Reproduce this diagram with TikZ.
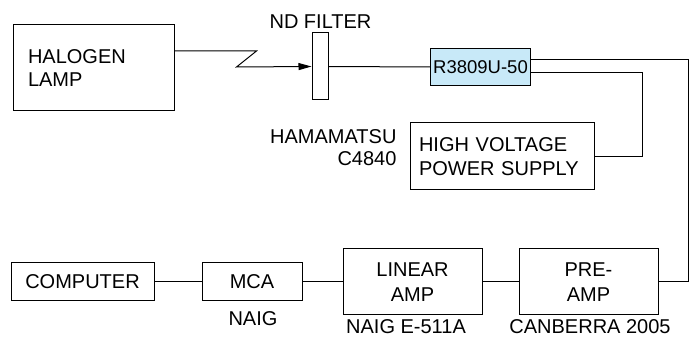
\documentclass[tikz,border=0pt]{standalone}
\usepackage{fontspec}
\setmainfont{Liberation Sans}
\usetikzlibrary{arrows.meta, positioning, calc}
\definecolor{tubefill}{HTML}{C8E9F8}

\begin{document}
\begin{tikzpicture}[x=1pt, y=-1pt, font=\fontsize{20}{23}\selectfont,
  box/.style={draw, line width=1pt, inner sep=0pt, align=center},
  wire/.style={line width=1pt}]
  \useasboundingbox (0,0) rectangle (694,339);

  % optics
  \node[box, minimum height=86pt, text width=131pt, inner xsep=15pt, align=left] (lamp) at (93.5,68) {HALOGEN\\LAMP};
  \node[box, minimum width=16pt, minimum height=67pt] (filt) at (320,66.5) {};
  \node (filtlbl) at (320.5,22) {ND FILTER};
  \node[box, fill=tubefill, minimum width=100pt, minimum height=37pt, font=\fontsize{18.5}{22}\selectfont] (pmt) at (480.5,67) {R3809U-50};

  % high voltage
  \node[box, minimum height=67pt, text width=166pt, inner xsep=9pt, align=left, font=\fontsize{20}{24}\selectfont] (hv) at (502,156.5) {HIGH VOLTAGE\\POWER SUPPLY};
  \node[anchor=east, align=right, font=\fontsize{20}{22}\selectfont] (hvlbl) at (400,148) {HAMAMATSU\\C4840};

  % electronics
  \node[box, minimum width=143pt, minimum height=38pt] (comp) at (82.5,282) {COMPUTER};
  \node[box, minimum width=100pt, minimum height=38pt] (mca) at (252,282) {MCA};
  \node (mcalbl) at (253,318.5) {NAIG};
  \node[box, minimum width=139pt, minimum height=66pt, font=\fontsize{20}{25}\selectfont] (lin) at (412.5,282) {LINEAR\\AMP};
  \node (linlbl) at (406,327) {NAIG E-511A};
  \node[box, minimum width=139pt, minimum height=66pt, font=\fontsize{20}{25}\selectfont] (pre) at (588.5,282) {PRE-\\AMP};
  \node (prelbl) at (590,327) {CANBERRA 2005};

  % connections
  \draw[wire, -{Triangle[length=13pt,width=7pt]}] ([yshift=17pt]lamp.east) -- ++(82,0) -- ++(-20,16) -- (filt.west);
  \draw[wire] (filt.east) -- (pmt.west);
  \draw[wire] ([yshift=7pt]pmt.east) -- ++(157,0) |- (pre.east);
  \draw[wire] ([yshift=-6pt]pmt.east) -- ++(111,0) |- (hv.east);
  \draw[wire] (comp) -- (mca) -- (lin) -- (pre);
\end{tikzpicture}
\end{document}
